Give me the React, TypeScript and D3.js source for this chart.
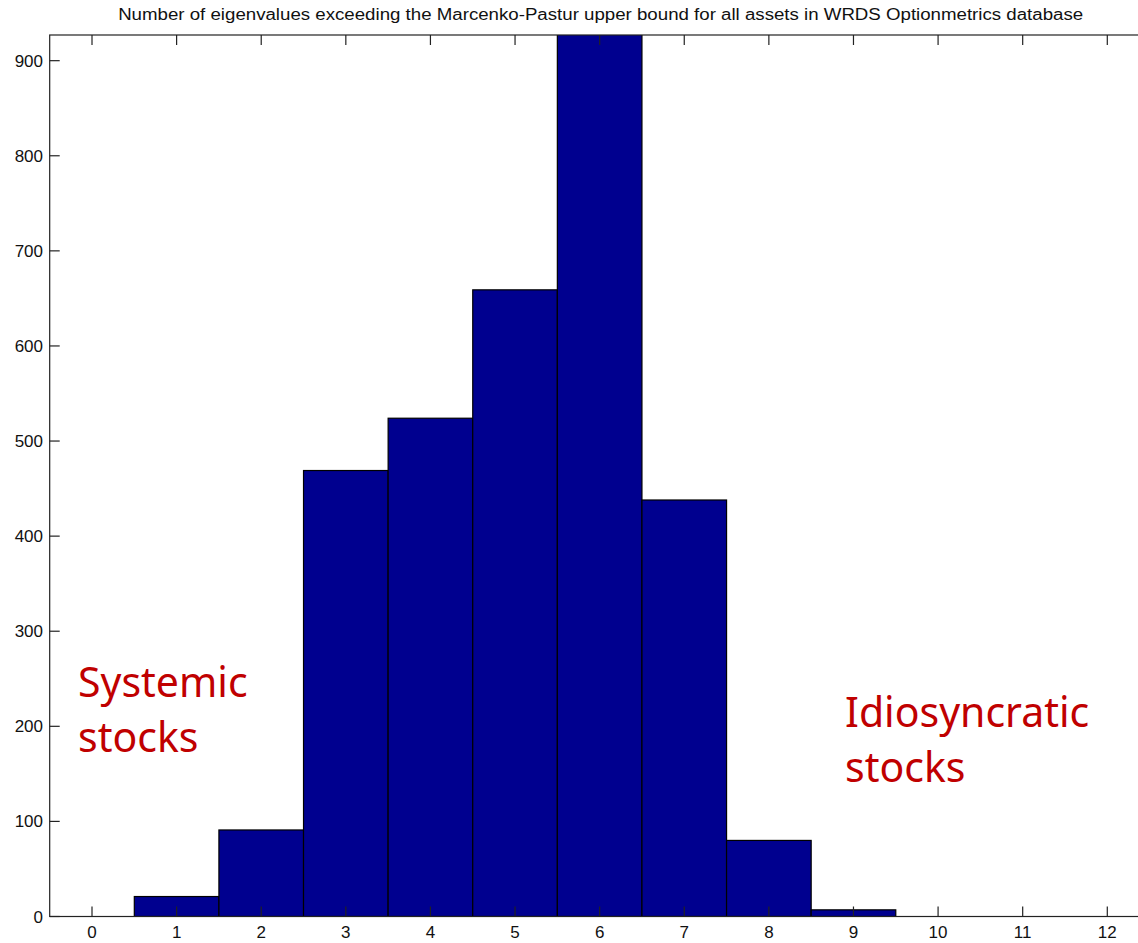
import React, { useEffect, useRef } from 'react';
import * as d3 from 'd3';

const bins = [0, 1, 2, 3, 4, 5, 6, 7, 8, 9, 10, 11, 12];
const counts = [0, 21, 91, 469, 524, 659, 940, 438, 80, 7, 0, 0, 0];
const yTicks = [0, 100, 200, 300, 400, 500, 600, 700, 800, 900];
const titleText = 'Number of eigenvalues exceeding the Marcenko-Pastur upper bound for all assets in WRDS Optionmetrics database';
const leftNote = ['Systemic', 'stocks'];
const rightNote = ['Idiosyncratic', 'stocks'];

const App: React.FC = () => {
    const svgRef = useRef<SVGSVGElement>(null);

    useEffect(() => {
        if (!svgRef.current) return;
        const svg = d3.select(svgRef.current);
        svg.selectAll('*').remove();

        const left = 49.7, right = 1149.6, top = 35, bottom = 916.5;

        const x = d3.scaleLinear().domain([-0.5, 12.5]).range([left, right]);
        const y = d3.scaleLinear().domain([0, 927]).range([bottom, top]);

        svg.append('defs').append('clipPath').attr('id', 'plotclip')
            .append('rect')
            .attr('x', left).attr('y', top)
            .attr('width', right - left).attr('height', bottom - top);

        // bars
        svg.append('g')
            .attr('clip-path', 'url(#plotclip)')
            .selectAll('rect')
            .data(bins.map((b, i) => ({ b, v: counts[i] })).filter(d => d.v > 0))
            .enter()
            .append('rect')
                .attr('x', d => x(d.b - 0.5))
                .attr('y', d => y(d.v))
                .attr('width', d => x(d.b + 0.5) - x(d.b - 0.5))
                .attr('height', d => y(0) - y(d.v))
                .style('fill', '#00008f')
                .style('stroke', '#000')
                .style('stroke-width', 1.2);

        // frame
        svg.append('rect')
            .attr('x', left).attr('y', top)
            .attr('width', right - left).attr('height', bottom - top)
            .style('fill', 'none')
            .style('stroke', '#222')
            .style('stroke-width', 1.2);

        const tickLen = 10;
        const ticks = svg.append('g').style('stroke', '#222').style('stroke-width', 1.2);
        bins.forEach(b => {
            ticks.append('line').attr('x1', x(b)).attr('x2', x(b)).attr('y1', bottom).attr('y2', bottom - tickLen);
            ticks.append('line').attr('x1', x(b)).attr('x2', x(b)).attr('y1', top).attr('y2', top + tickLen);
        });
        yTicks.forEach(t => {
            ticks.append('line').attr('x1', left).attr('x2', left + tickLen).attr('y1', y(t)).attr('y2', y(t));
            ticks.append('line').attr('x1', right).attr('x2', right - tickLen).attr('y1', y(t)).attr('y2', y(t));
        });

        svg.append('g')
            .style('font-family', '"Liberation Sans", Arial, sans-serif')
            .style('font-size', '17px')
            .style('fill', '#111')
            .selectAll('text')
            .data(bins)
            .enter()
            .append('text')
                .attr('x', d => x(d))
                .attr('y', 938)
                .attr('text-anchor', 'middle')
                .text(d => d);

        svg.append('g')
            .style('font-family', '"Liberation Sans", Arial, sans-serif')
            .style('font-size', '17px')
            .style('fill', '#111')
            .selectAll('text')
            .data(yTicks)
            .enter()
            .append('text')
                .attr('x', 43)
                .attr('y', d => y(d) + 6)
                .attr('text-anchor', 'end')
                .text(d => d);

        svg.append('text')
            .attr('x', (left + right) / 2 + 1)
            .attr('y', 20)
            .attr('text-anchor', 'middle')
            .attr('textLength', 965)
            .attr('lengthAdjust', 'spacingAndGlyphs')
            .style('font-family', '"Liberation Sans", Arial, sans-serif')
            .style('font-size', '16px')
            .style('fill', '#111')
            .text(titleText);

        const note = (lines: string[], x0: number, y0: number) => {
            lines.forEach((s, i) => {
                svg.append('text')
                    .attr('x', x0)
                    .attr('y', y0 + i * 55)
                    .style('font-family', '"Noto Sans", "Open Sans", sans-serif')
                    .style('font-size', '41px')
                    .style('fill', '#c00000')
                    .text(s);
            });
        };
        note(leftNote, 78, 697);
        note(rightNote, 845, 727);
    }, []);

    return (
        <svg ref={svgRef} width={1138} height={943}
            style={{ position: 'absolute', left: 0, top: 0, background: '#fff', overflow: 'hidden' }} />
    );
};

export default App;
